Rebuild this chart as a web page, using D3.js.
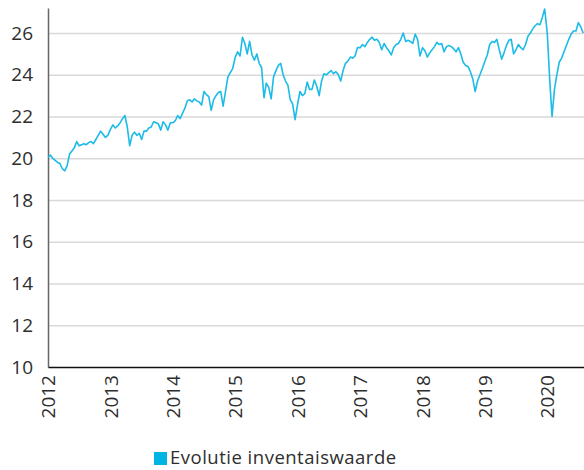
<!DOCTYPE html>
<html>
<head>
<meta charset="utf-8">
<script src="https://cdn.jsdelivr.net/npm/d3@7"></script>
<style>
  body { margin: 0; background: #fff; }
  text { font-family: "Open Sans", Lato, sans-serif; font-weight: 400; fill: #2e2e2e; }
</style>
</head>
<body>
<script>
// inventory value, one reading every two weeks, per year
var nav2012 = [20.05, 20.15, 20.0, 19.9, 19.8, 19.75, 19.5, 19.4, 19.65, 20.2, 20.35, 20.5, 20.8,
               20.6, 20.65, 20.7, 20.65, 20.75, 20.8, 20.7, 20.9, 21.1, 21.3, 21.15, 21.0, 21.1];
var nav2013 = [21.4, 21.6, 21.45, 21.55, 21.7, 21.9, 22.05, 21.5, 20.6, 21.1, 21.25, 21.1, 21.2,
               20.9, 21.3, 21.3, 21.45, 21.5, 21.75, 21.7, 21.65, 21.35, 21.75, 21.6, 21.35, 21.7];
var nav2014 = [21.7, 21.8, 22.05, 21.9, 22.15, 22.4, 22.75, 22.8, 22.7, 22.85, 22.75, 22.7, 22.55,
               23.2, 23.05, 22.95, 22.3, 22.8, 23.0, 23.15, 23.2, 22.5, 23.2, 23.9, 24.1, 24.3];
var nav2015 = [24.85, 25.1, 24.9, 25.8, 25.5, 25.0, 25.6, 24.95, 24.7, 25.0, 24.55, 24.35, 22.9,
               23.6, 23.4, 22.85, 23.9, 24.2, 24.45, 24.55, 24.0, 23.7, 23.5, 22.8, 22.6, 21.85];
var nav2016 = [22.6, 23.2, 23.0, 23.1, 23.65, 23.3, 23.3, 23.75, 23.45, 23.0, 23.7, 24.05, 24.0,
               24.1, 24.2, 24.05, 24.15, 24.0, 23.7, 24.2, 24.55, 24.65, 24.85, 24.8, 24.9, 25.3];
var nav2017 = [25.3, 25.45, 25.35, 25.55, 25.7, 25.8, 25.65, 25.7, 25.55, 25.2, 25.5, 25.3, 25.15,
               24.95, 25.3, 25.45, 25.5, 25.7, 26.0, 25.6, 25.65, 25.6, 25.5, 25.95, 25.7, 24.9];
var nav2018 = [25.3, 25.15, 24.85, 25.05, 25.2, 25.35, 25.55, 25.45, 25.5, 25.1, 25.35, 25.4, 25.35,
               25.25, 25.1, 25.3, 25.0, 24.6, 24.45, 24.4, 24.15, 23.8, 23.2, 23.7, 24.0, 24.3];
var nav2019 = [24.65, 24.95, 25.45, 25.6, 25.55, 25.7, 25.2, 24.75, 25.05, 25.4, 25.65, 25.7, 25.0,
               25.2, 25.45, 25.3, 25.2, 25.45, 25.85, 26.0, 26.2, 26.35, 26.45, 26.4, 26.75, 27.15];
var nav2020 = [26.0, 23.8, 22.0, 23.3, 24.0, 24.6, 24.8, 25.1, 25.4, 25.7, 25.95, 26.1, 26.1,
               26.5, 26.3, 26.0];

var years = [2012, 2013, 2014, 2015, 2016, 2017, 2018, 2019, 2020];
var series = [nav2012, nav2013, nav2014, nav2015, nav2016, nav2017, nav2018, nav2019, nav2020];
var yTicks = [10, 12, 14, 16, 18, 20, 22, 24, 26];
var legendLabel = "Evolutie inventaiswaarde";

// flatten into {date, v}
var data = [];
years.forEach(function(yr, k){
  series[k].forEach(function(v, i){
    data.push({date: new Date(yr, 0, 1 + 14 * i), v: v});
  });
});

var width = 584, height = 470;
var plotLeft = 48, plotRight = 584, plotTop = 8, plotBottom = 367;

var svg = d3.select("body")
  .append("svg")
    .attr("width", width)
    .attr("height", height);

var x = d3.scaleTime()
  .domain([new Date(2012, 0, 1), new Date(2020, 7, 3)])
  .range([plotLeft, plotRight]);

var y = d3.scaleLinear()
  .domain([10, 27.2])
  .range([plotBottom, plotTop]);

// gridlines
svg.append("g")
  .attr("transform", "translate(" + plotLeft + ",0)")
  .call(d3.axisLeft(y).tickValues(yTicks.slice(1)).tickSize(-(plotRight - plotLeft)).tickFormat(""))
  .call(function(g){
    g.select(".domain").remove();
    g.selectAll("line").attr("stroke", "#d9d9d9").attr("stroke-width", 1.5);
  });

// y axis
svg.append("g")
  .attr("transform", "translate(" + plotLeft + ",0)")
  .call(d3.axisLeft(y).tickValues(yTicks).tickSize(0).tickSizeOuter(0).tickPadding(15))
  .call(function(g){
    g.select(".domain").attr("stroke", "#666").attr("stroke-width", 1.5);
    g.selectAll("text").style("font-size", "19px");
  });

// x axis
svg.append("g")
  .attr("transform", "translate(0," + plotBottom + ")")
  .call(d3.axisBottom(x).ticks(d3.timeYear.every(1)).tickSize(0).tickSizeOuter(0)
    .tickFormat(d3.timeFormat("%Y")))
  .call(function(g){
    g.select(".domain").attr("stroke", "#111").attr("stroke-width", 1.5);
    g.selectAll("text")
      .attr("transform", "rotate(-90)")
      .attr("x", -8)
      .attr("y", 0)
      .attr("dy", "0.35em")
      .style("text-anchor", "end")
      .style("font-size", "19px");
  });
// let the stylesheet pick the font
svg.selectAll("g").attr("font-family", null).attr("font-size", null);

// the line
var line = d3.line()
  .x(function(d){ return x(d.date); })
  .y(function(d){ return y(d.v); });

svg.append("path")
  .datum(data)
  .attr("fill", "none")
  .attr("stroke", "#1cbbe8")
  .attr("stroke-width", 1.6)
  .attr("stroke-linejoin", "round")
  .attr("d", line);

// legend
var legend = svg.append("g").attr("transform", "translate(154,451)");
legend.append("rect")
  .attr("y", 1)
  .attr("width", 13)
  .attr("height", 13)
  .attr("fill", "#00b4e3");
legend.append("text")
  .attr("x", 16)
  .attr("y", 13)
  .style("font-size", "18.5px")
  .style("letter-spacing", "0.5px")
  .text(legendLabel);
</script>
</body>
</html>
